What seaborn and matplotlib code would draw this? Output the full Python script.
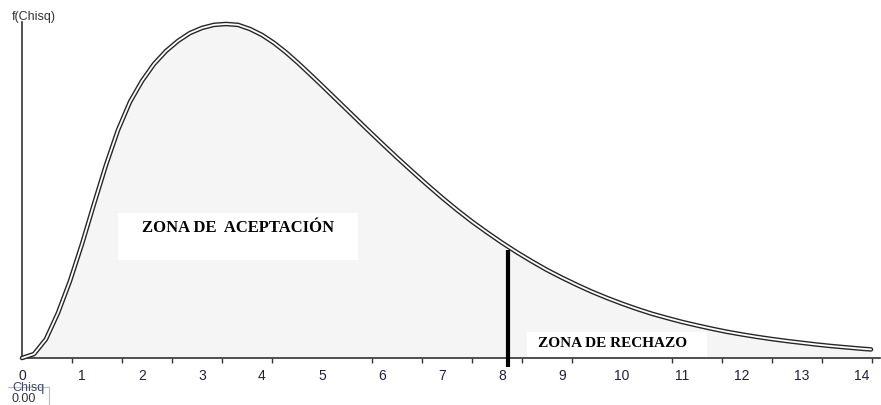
import numpy as np
import matplotlib.pyplot as plt
import seaborn as sns
from matplotlib.patches import Rectangle
from matplotlib.lines import Line2D
from matplotlib.ticker import FixedLocator

# curve (Chisq, f(Chisq))
chisq = [0, 0.2, 0.4, 0.6, 0.8, 1.0, 1.2, 1.4, 1.6, 1.8, 2.0, 2.2, 2.4, 2.6, 2.8,
         3.0, 3.2, 3.4, 3.6, 3.8, 4.0, 4.2, 4.4, 4.6, 4.8, 5.0, 5.25, 5.5, 5.75,
         6.0, 6.25, 6.5, 6.75, 7.0, 7.25, 7.5, 7.75, 8.0, 8.25, 8.5, 8.75, 9.0,
         9.25, 9.5, 9.75, 10.0, 10.25, 10.5, 10.75, 11.0, 11.25, 11.5, 11.75, 12.0,
         12.25, 12.5, 12.75, 13.0, 13.25, 13.5, 13.75, 14.0, 14.15]
f_chisq = [0.0, 0.0018, 0.0086, 0.0205, 0.0350, 0.0518, 0.0700, 0.0877, 0.1036,
           0.1164, 0.1259, 0.1336, 0.1395, 0.1441, 0.1477, 0.1500, 0.1514, 0.1518,
           0.1514, 0.1495, 0.1468, 0.1432, 0.1389, 0.1341, 0.1290, 0.1238, 0.1172,
           0.1106, 0.1040, 0.0975, 0.0911, 0.0849, 0.0788, 0.0729, 0.0673, 0.0620,
           0.0571, 0.0524, 0.0480, 0.0439, 0.0400, 0.0365, 0.0332, 0.0301, 0.0273,
           0.0247, 0.0223, 0.0201, 0.0182, 0.0164, 0.0148, 0.0133, 0.0119, 0.0107,
           0.0096, 0.0086, 0.0077, 0.0069, 0.0061, 0.0054, 0.0048, 0.0042, 0.0039]
tick_vals = list(range(15))
tick_labels = [str(t) for t in tick_vals]
critical = 8.1
label_accept = 'ZONA DE  ACEPTACIÓN'
label_reject = 'ZONA DE RECHAZO'

sns.set_style('white')
plt.rcParams['font.family'] = ['Liberation Sans', 'DejaVu Sans']

W, H = 881, 405
fig = plt.figure(figsize=(W / 100, H / 100), dpi=100)
ax = fig.add_axes([22 / W, 1 - 358 / H, 1 - 23 / W, (358 - 22) / H])
ax.set_xlim(0, 14.3)
ax.set_ylim(0, 0.1527)

# shaded area + double outline of the density
ax.fill_between(chisq, f_chisq, color='#f5f5f5', lw=0, zorder=1)
sns.lineplot(x=chisq, y=f_chisq, ax=ax, color='#262626', lw=3.3, sort=False,
             clip_on=False, zorder=3)
sns.lineplot(x=chisq, y=f_chisq, ax=ax, color='white', lw=1.3, sort=False,
             clip_on=False, zorder=3)

# critical value
ax.plot([critical, critical], [-0.0041, 0.049], color='black', lw=3,
        solid_capstyle='butt', clip_on=False, zorder=5)

# zone labels
ax.add_patch(Rectangle((1.6, 0.0445), 4.0, 0.0214, facecolor='white', lw=0, zorder=2))
ax.text(3.6, 0.0591, label_accept, ha='center', va='center', fontsize=12,
        family='Liberation Serif', weight='bold', color='black', zorder=4)
ax.add_patch(Rectangle((8.42, 0.0005), 3.0, 0.0114, facecolor='white', lw=0, zorder=2))
ax.text(9.85, 0.0064, label_reject, ha='center', va='center', fontsize=11,
        family='Liberation Serif', weight='bold', color='black', zorder=4)

# axes
sns.despine(ax=ax, top=True, right=True)
for s in ['left', 'bottom']:
    ax.spines[s].set_color('#333333')
    ax.spines[s].set_linewidth(1.2)
ax.set_yticks([])
ax.set_xticks(tick_vals)
ax.set_xticklabels(tick_labels)
ax.xaxis.set_minor_locator(FixedLocator(np.arange(0, 14.4, 50 / 60)))
ax.tick_params(axis='x', which='major', length=0, pad=8, labelsize=10,
               labelcolor='#1f1f45', bottom=True)
ax.tick_params(axis='x', which='minor', length=3.5, width=1, color='#333333',
               direction='out', bottom=True)
ax.set_xlabel('')
ax.set_ylabel('')

fig.text(12 / W, 1 - 17 / H, 'f(Chisq)', fontsize=9, va='center', color='#333333')
fig.add_artist(Line2D([8 / W, 49 / W], [1 - 387 / H] * 2, color='#bbbbbb', lw=0.8))
fig.add_artist(Line2D([49 / W, 49 / W], [1 - 387 / H, 0], color='#bbbbbb', lw=0.8))
fig.text(12 / W, 1 - 388 / H, 'Chisq', fontsize=9, va='center', color='#3a4a6a')
fig.text(12 / W, 1 - 399 / H, '0.00', fontsize=9, va='center', color='#333333')

fig.savefig('out.png', dpi=100)
